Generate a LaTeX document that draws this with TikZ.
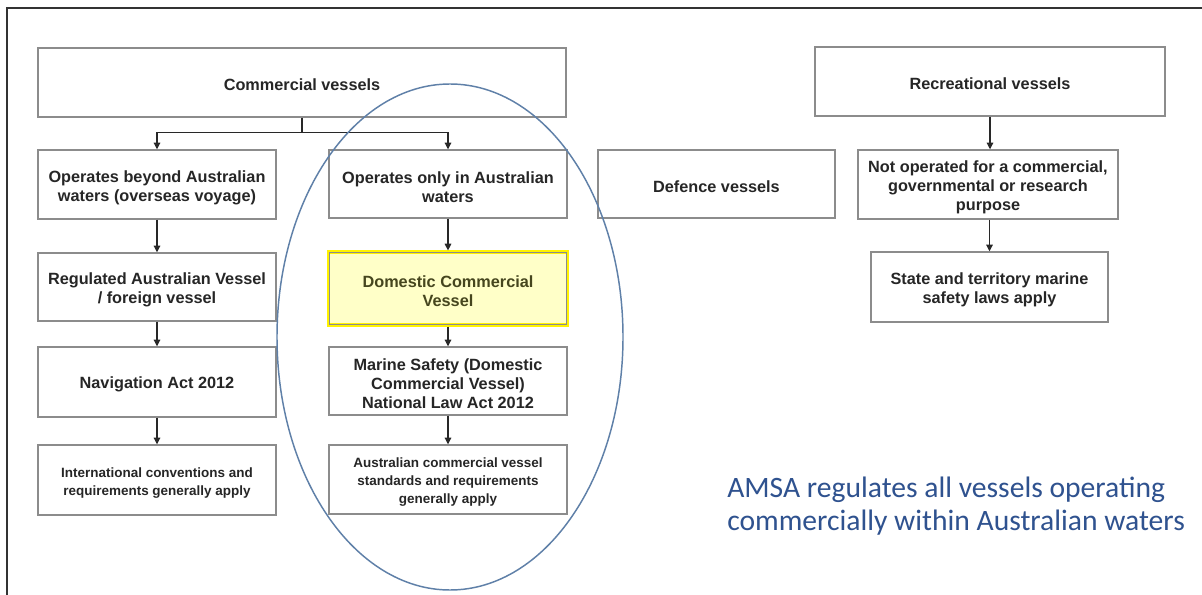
\documentclass[tikz,border=0pt]{standalone}
\usepackage{fontspec}
\setmainfont{Liberation Sans}
\newfontfamily\calib{Carlito}
\usetikzlibrary{arrows.meta,calc}
\definecolor{boxgray}{RGB}{140,140,140}
\definecolor{linegray}{RGB}{40,40,40}
\definecolor{ellblue}{RGB}{95,128,168}
\definecolor{amsablue}{RGB}{47,82,143}
\definecolor{dcfill}{RGB}{255,255,200}
\definecolor{dctext}{RGB}{70,70,30}
\tikzset{
 box/.style={draw=boxgray, line width=1.1pt, fill=white, align=center, font=\bfseries\fontsize{12.2}{14.3}\selectfont, text=black!85, inner sep=0pt, minimum width=178.5pt, minimum height=51.75pt, execute at begin node={\rule{0pt}{12.5pt}}},
 mltwo/.style={execute at begin node={\rule{0pt}{27.5pt}}},
 mlthree/.style={execute at begin node={\rule{0pt}{41.8pt}}},
 smtwo/.style={font=\bfseries\fontsize{10.1}{13.5}\selectfont, execute at begin node={\rule{0pt}{25pt}}},
 smthree/.style={font=\bfseries\fontsize{10.1}{13.5}\selectfont, execute at begin node={\rule{0pt}{38.5pt}}},
 conn/.style={draw=linegray, line width=0.8pt},
 arr/.style={conn, -{Triangle[width=5pt,length=5pt]}},
}
\begin{document}
\begin{tikzpicture}[x=0.75pt,y=-0.75pt]
\useasboundingbox (0,0) rectangle (1202,595);
\fill[white] (0,0) rectangle (1202,595);
% frame
\draw[black!80, line width=1.5pt] (7,595) -- (7,8) -- (1202,8);

% boxes
\node[box, minimum width=396pt] (cv) at (302,82.5) {Commercial vessels};
\node[box, minimum width=262.5pt] (rv) at (990,81.5) {Recreational vessels};
\node[box, mltwo, minimum height=51.75pt] (ob) at (157,184.5) {Operates beyond Australian\\waters (overseas voyage)};
\node[box, mltwo, minimum height=51pt] (oo) at (448,184) {Operates only in Australian\\waters};
\node[box, minimum width=177.75pt, minimum height=51pt] (dv) at (716.5,184) {Defence vessels};
\node[box, mlthree, minimum width=195pt, minimum height=51.75pt] (no) at (988,184.5) {Not operated for a commercial,\\governmental or research\\purpose};
\node[box, mltwo, minimum height=51pt] (rg) at (157,287) {Regulated Australian Vessel\\/ foreign vessel};
\node[box, mltwo, minimum width=179.25pt, minimum height=54.75pt, draw=yellow, line width=2.4pt, fill=dcfill, text=dctext] (dc) at (448,288.5) {Domestic Commercial\\Vessel};
\draw[boxgray, line width=0.9pt] ($(dc.north west)+(2.5,2.5)$) rectangle ($(dc.south east)+(-2.5,-2.5)$);
\node[box, mltwo, minimum width=177.75pt, minimum height=52.5pt] (st) at (989.5,287) {State and territory marine\\safety laws apply};
\node[box, minimum height=52.5pt] (na) at (157,382) {Navigation Act 2012};
\node[box, mlthree, minimum height=51pt] (ms) at (448,381) {Marine Safety (Domestic\\Commercial Vessel)\\National Law Act 2012};
\node[box, smtwo, minimum height=52.5pt] (ic) at (157,480) {International conventions and\\requirements generally apply};
\node[box, smthree] (ac) at (448,479.5) {Australian commercial vessel\\standards and requirements\\generally apply};

% connectors
\coordinate (split) at (302,132.5);
\draw[conn] (cv.south) -- (split);
\draw[arr] (split) -| (ob.north);
\draw[arr] (split) -| (oo.north);
\draw[arr] (rv.south) -- (rv.south |- no.north);
\draw[arr] (no.south -| st.north) -- (st.north);
\draw[arr] (ob.south) -- (rg.north);
\draw[arr] (rg.south) -- (na.north);
\draw[arr] (na.south) -- (ic.north);
\draw[arr] (oo.south) -- (oo.south |- dc.north);
\draw[arr] (dc.south) -- (dc.south |- ms.north);
\draw[arr] (ms.south) -- (ac.north);

% ellipse
\draw[ellblue, line width=1.1pt] (450,337) ellipse [x radius=173, y radius=253];

% note
\node[anchor=north west, inner sep=0pt, align=left, text=amsablue, font=\calib\fontsize{22.2}{24.8}\selectfont] (amsa) at (727,477) {AMSA regulates all vessels operating\\commercially within Australian waters};
\end{tikzpicture}
\end{document}
